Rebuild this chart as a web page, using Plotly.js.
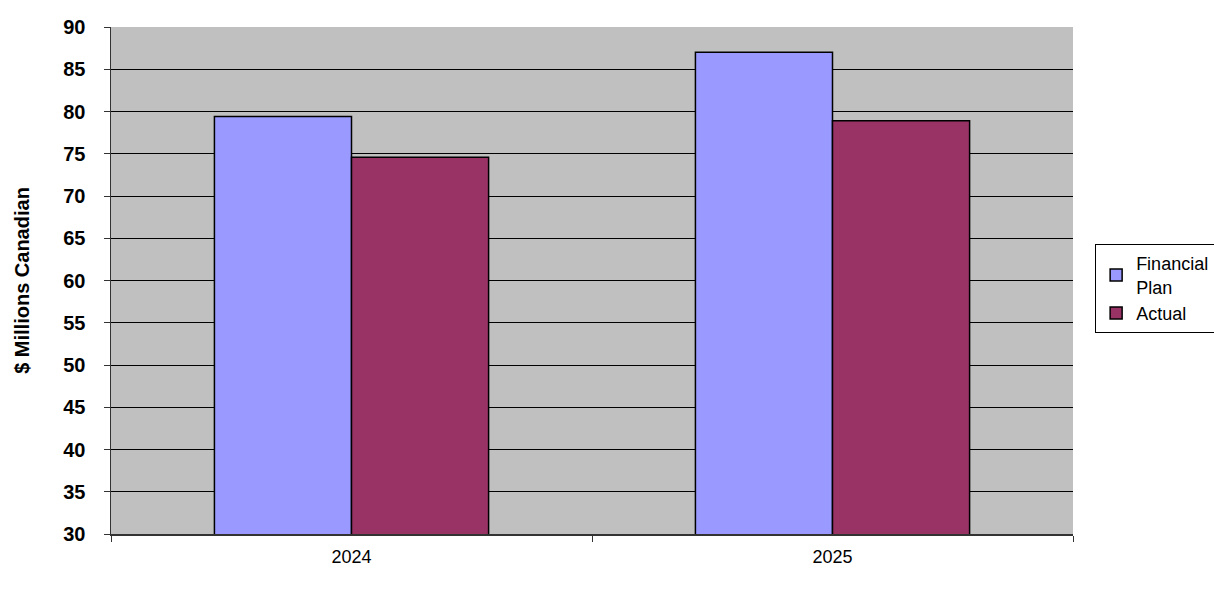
<!DOCTYPE html>
<html>
<head>
<meta charset="utf-8">
<script src="https://cdn.plot.ly/plotly-3.0.1.min.js"></script>
<style>
  body { margin: 0; background: #fff; }
  #chart { width: 1214px; height: 598px; }
</style>
</head>
<body>
<div id="chart"></div>
<script>
var years = ['2024', '2025'];
var financialPlan = [79.4, 87.0];
var actual = [74.6, 78.9];

var data = [{
  x: years,
  y: financialPlan,
  type: 'bar',
  name: 'Financial<br>Plan',
  marker: { color: '#9999FF', line: { color: '#000', width: 1.5 } }
}, {
  x: years,
  y: actual,
  type: 'bar',
  name: 'Actual',
  marker: { color: '#993366', line: { color: '#000', width: 1.5 } }
}];

var layout = {
  width: 1214,
  height: 598,
  margin: { l: 111, r: 141, t: 27, b: 64, autoexpand: false },
  paper_bgcolor: '#fff',
  plot_bgcolor: '#C0C0C0',
  barmode: 'group',
  bargap: 0.43,
  bargroupgap: 0,
  font: { family: 'Liberation Sans, Arial, sans-serif', color: '#000' },
  xaxis: {
    type: 'category',
    showline: true,
    linecolor: '#333',
    linewidth: 1.5,
    ticks: 'outside',
    tickson: 'boundaries',
    ticklen: 6,
    tickcolor: '#333',
    showgrid: false,
    tickfont: { size: 18 },
    ticklabelstandoff: 6
  },
  yaxis: {
    range: [30, 90],
    dtick: 5,
    showline: true,
    linecolor: '#333',
    linewidth: 1.5,
    ticks: 'outside',
    ticklen: 6,
    tickcolor: '#333',
    gridcolor: '#000',
    gridwidth: 1,
    zeroline: false,
    ticklabelstandoff: 14,
    tickfont: { size: 20, family: 'Liberation Sans, Arial, sans-serif', weight: 'bold' },
    title: { text: '<b>$ Millions Canadian</b>', font: { size: 20 }, standoff: 28 }
  },
  legend: {
    x: 1.023,
    xanchor: 'left',
    y: 0.572,
    yanchor: 'top',
    bgcolor: '#fff',
    bordercolor: '#000',
    borderwidth: 1,
    font: { size: 18 },
    itemwidth: 30
  },
  showlegend: true
};

Plotly.newPlot('chart', data, layout, { staticPlot: true });
</script>
</body>
</html>
